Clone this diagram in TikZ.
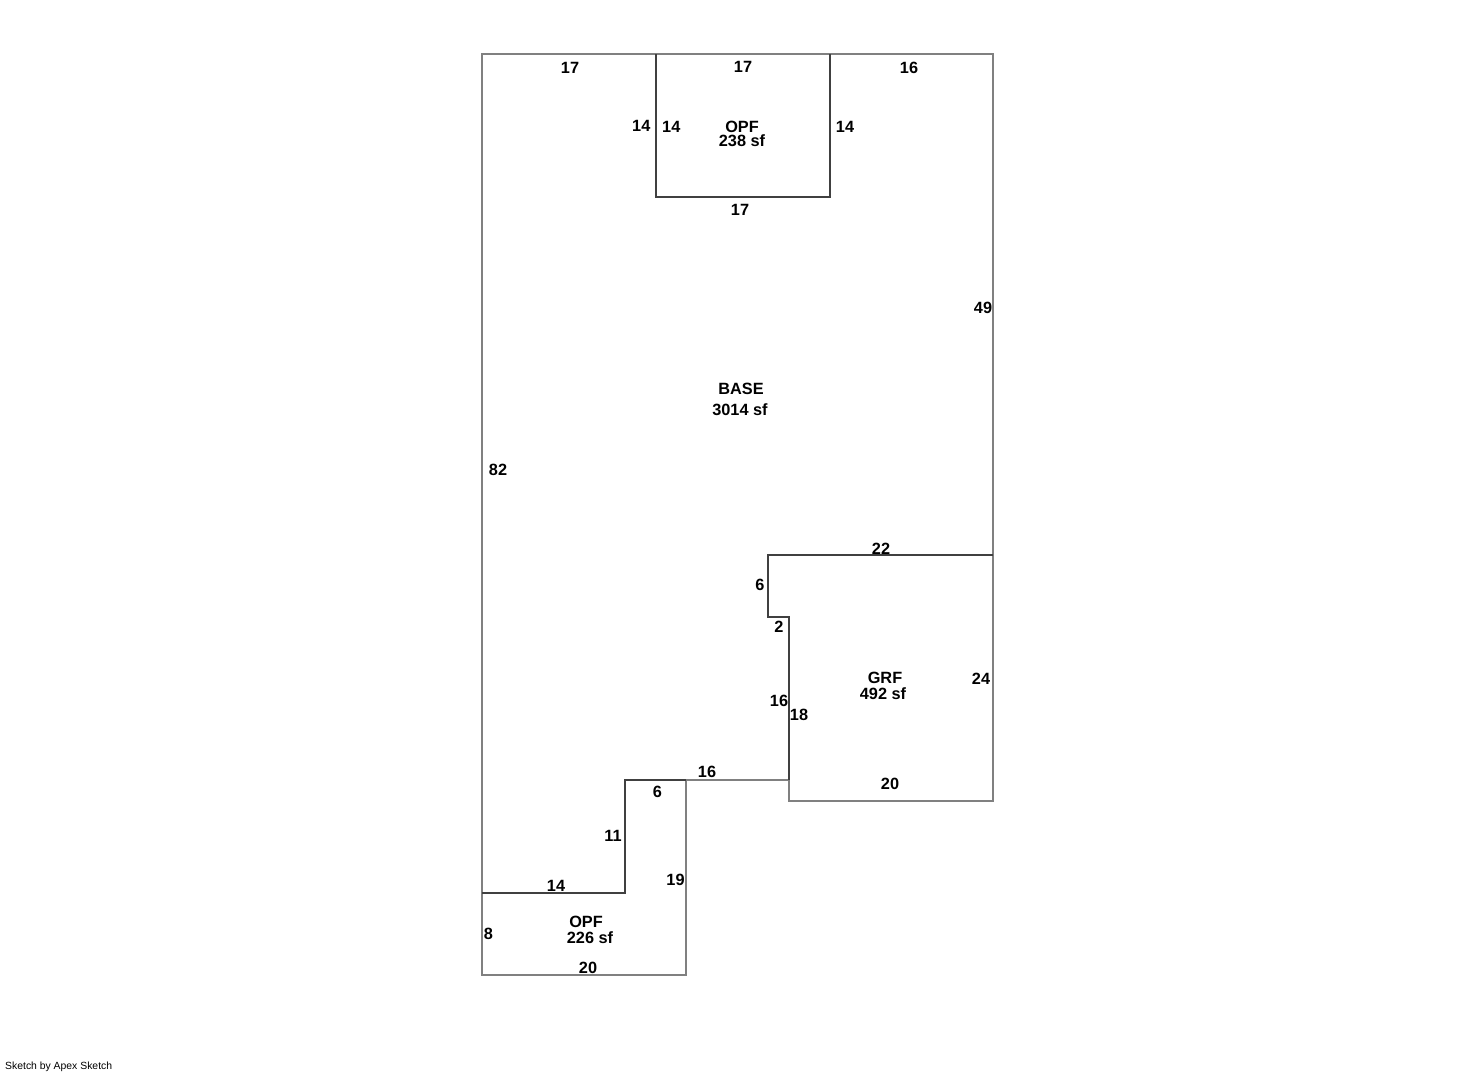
\documentclass[tikz,border=0pt]{standalone}
\usepackage{fontspec}
\setmainfont{Liberation Sans}
\tikzset{
  lite/.style={draw=black!50,line width=1.2pt,line join=miter,line cap=rect},
  dark/.style={draw=black!75,line width=1.4pt,line join=miter,line cap=butt},
  dim/.style={font=\fontsize{16.3}{17}\selectfont\bfseries,inner sep=0pt,text=black,yshift=-0.5pt},
  lab/.style={font=\fontsize{16.3}{17}\selectfont\bfseries,inner sep=0pt,text=black,yshift=-0.5pt},
  foot/.style={font=\fontsize{10.4}{12}\selectfont,inner sep=0pt,anchor=west,text=black}
}
\begin{document}
\begin{tikzpicture}[x=1pt,y=-1pt]
\useasboundingbox (0,0) rectangle (1461,1072);
\fill[white] (0,0) rectangle (1461,1072);
% light outer walls
\draw[lite] (656,54) -- (482,54) -- (482,975) -- (686,975) -- (686,780) -- (789,780) -- (789,801) -- (993,801) -- (993,54) -- (830,54) -- (656,54);
% dark shared walls
\draw[dark] (656,54) -- (656,197) -- (830,197) -- (830,54);
\draw[dark] (993,555) -- (768,555) -- (768,617) -- (789,617) -- (789,780);
\draw[dark] (686,780) -- (625,780) -- (625,893) -- (482,893);
% dimensions
\node[dim] (d1) at (570,67) {17};
\node[dim] (d2) at (743,66) {17};
\node[dim] (d3) at (909,67) {16};
\node[dim] (d4) at (641.3,125) {14};
\node[dim] (d5) at (671.3,126) {14};
\node[dim] (d6) at (845,126) {14};
\node[dim] (d7) at (740,209) {17};
\node[dim] (d8) at (983,307) {49};
\node[dim] (d9) at (498,469) {82};
\node[dim] (d10) at (881,548) {22};
\node[dim] (d11) at (760,584) {6};
\node[dim] (d12) at (779,626) {2};
\node[dim] (d13) at (981,678) {24};
\node[dim] (d14) at (779,700) {16};
\node[dim] (d15) at (799,714) {18};
\node[dim] (d16) at (707,771) {16};
\node[dim] (d17) at (890,783) {20};
\node[dim] (d18) at (657.5,791) {6};
\node[dim] (d19) at (613,835) {11};
\node[dim] (d20) at (675.5,879) {19};
\node[dim] (d21) at (556,885) {14};
\node[dim] (d22) at (488.5,933) {8};
\node[dim] (d23) at (588,967) {20};
% area labels
\node[lab] (a1) at (742,126) {OPF};
\node[dim] (a2) at (742,140) {238 sf};
\node[lab] (a3) at (741,388) {BASE};
\node[dim] (a4) at (740,409) {3014 sf};
\node[lab] (a5) at (885,677) {GRF};
\node[dim] (a6) at (883,693) {492 sf};
\node[lab] (a7) at (586,921) {OPF};
\node[dim] (a8) at (590,937) {226 sf};
\node[foot] (f) at (5,1066.5) {Sketch by Apex Sketch};
\end{tikzpicture}
\end{document}
